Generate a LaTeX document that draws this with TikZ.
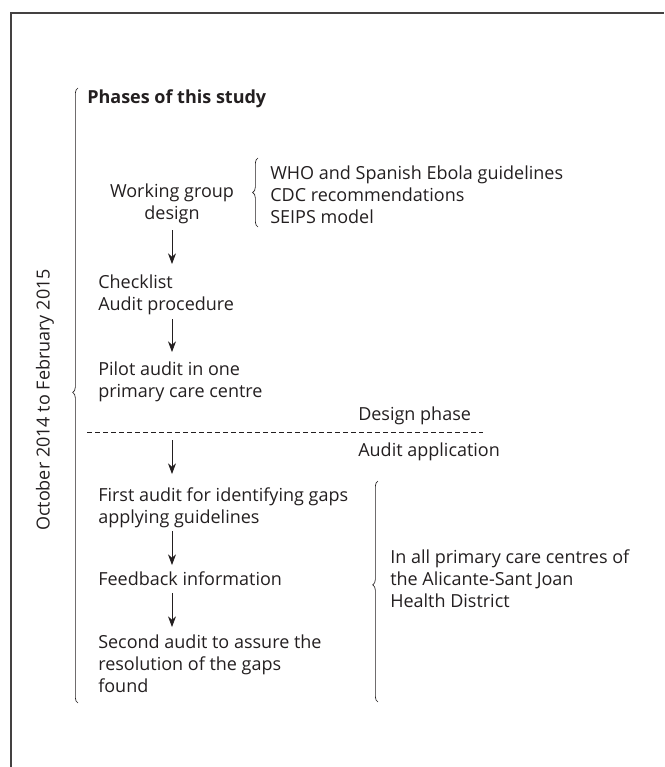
\documentclass[tikz,border=0pt]{standalone}
\usepackage{fontspec}
\setmainfont{Open Sans}
\usetikzlibrary{arrows.meta,decorations.pathreplacing}
\definecolor{ink}{HTML}{231F20}
\begin{document}
\begin{tikzpicture}[x=0.75pt,y=-0.75pt,
  txt/.style={inner sep=0pt,anchor=west,align=left,text=ink,font=\fontsize{13.5}{16.5}\selectfont},
  arr/.style={draw=ink,line width=0.6pt,-{Stealth[length=8pt,width=6pt]}},
  brc/.style={draw=ink,line width=0.5pt,decorate,decoration={brace,amplitude=4pt,#1}},
  brc/.default={aspect=0.5},
  frame/.style={draw=ink!85,line width=1pt},
  dline/.style={draw=ink,line width=0.6pt,dash pattern=on 3.6pt off 2.4pt}]
\useasboundingbox (0,0) rectangle (664,767);
\draw[frame] (11,767) -- (11,13) -- (664,13);
% period
\node[txt,anchor=center,rotate=90] (period) at (45,400) {October 2014 to February 2015};
\draw[brc={aspect=0.505}] (78,703) -- (78,88);
% design phase
\node[txt] (phases) at (87,99) {\bfseries Phases of this study};
\node[txt,anchor=center,align=center] (wg) at (172,204) {Working group\\design};
\draw[brc] (258,227) -- (258,158);
\node[txt] (refs) at (270,195) {WHO and Spanish Ebola guidelines\\CDC recommendations\\SEIPS model};
\node[txt] (cl) at (98,295) {Checklist\\Audit procedure};
\node[txt] (pilot) at (98,382) {Pilot audit in one\\primary care centre};
\node[txt] (dp) at (358,416) {Design phase};
\coordinate (dl1) at (87,432);
\coordinate (dl2) at (483,432);
\draw[dline] (dl1) -- (dl2);
\node[txt] (aa) at (358,452) {Audit application};
% audit phase
\node[txt] (first) at (98,508) {First audit for identifying gaps\\applying guidelines};
\node[txt] (fb) at (98,579) {Feedback information};
\node[txt] (second) at (98,664) {Second audit to assure the\\resolution of the gaps\\found};
\draw[brc={aspect=0.53}] (378,702) -- (378,481);
\node[txt] (all) at (390,579) {In all primary care centres of\\the Alicante-Sant Joan\\Health District};
% arrows
\coordinate (a1s) at (172,230); \coordinate (a1e) at (172,264);
\coordinate (a2s) at (172,319); \coordinate (a2e) at (172,352);
\coordinate (a3s) at (172,440); \coordinate (a3e) at (172,474);
\coordinate (a4s) at (172,531); \coordinate (a4e) at (172,565);
\coordinate (a5s) at (172,593); \coordinate (a5e) at (172,627);
\draw[arr] (a1s) -- (a1e);
\draw[arr] (a2s) -- (a2e);
\draw[arr] (a3s) -- (a3e);
\draw[arr] (a4s) -- (a4e);
\draw[arr] (a5s) -- (a5e);
\end{tikzpicture}
\end{document}
